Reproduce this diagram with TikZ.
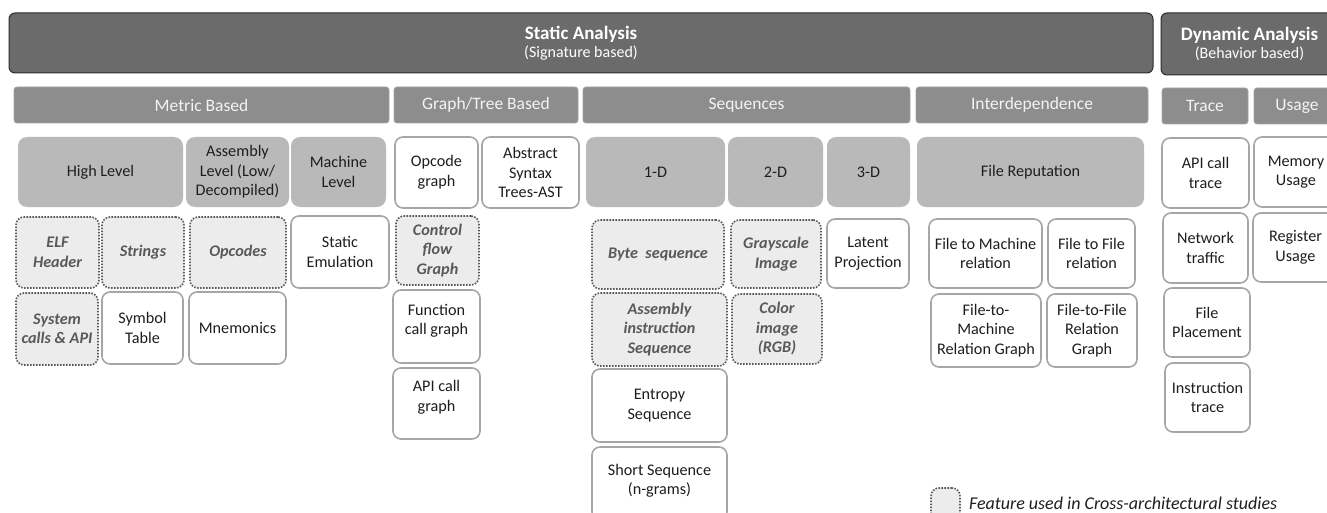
\documentclass[tikz,border=0pt]{standalone}
\usepackage{fontspec}
\setmainfont{Carlito}
\definecolor{cTop}{HTML}{6B6B6B}
\definecolor{cTopD}{HTML}{2B2B2B}
\definecolor{cCat}{HTML}{8D8D8D}
\definecolor{cCatD}{HTML}{A3A3A3}
\definecolor{cSub}{HTML}{B9B9B9}
\definecolor{cWb}{HTML}{A6A6A6}
\definecolor{cDot}{HTML}{595959}
\definecolor{cDotF}{HTML}{ECECEC}
\definecolor{cTxt}{HTML}{1E1E1E}
\definecolor{cCatT}{HTML}{F4F4F4}
\newcommand\bx[7]{\node[#6, minimum width={#4pt-#2pt}, minimum height={#5pt-#3pt}] (#1) at ({(#2+#4)/2},{(#3+#5)/2}) {#7};}
\begin{document}
\begin{tikzpicture}[x=1pt,y=-1pt,
  every node/.style={inner sep=0pt, outer sep=0pt, align=center},
  topbox/.style={draw=cTopD, line width=1pt, fill=cTop, rounded corners=6pt, text=white},
  catbox/.style={draw=cCatD, line width=0.8pt, fill=cCat, rounded corners=3pt, text=cCatT, font=\fontsize{17.5}{21}\selectfont},
  subbox/.style={fill=cSub, rounded corners=9pt, text=cTxt, font=\fontsize{16.2}{19.5}\selectfont},
  wbox/.style={draw=cWb, line width=1.6pt, fill=white, rounded corners=8pt, text=cTxt, font=\fontsize{16.2}{19.5}\selectfont},
  dbox/.style={draw=cDot, line width=1.6pt, dash pattern=on 1.6pt off 1.4pt, fill=cDotF, rounded corners=8pt, text=cDot, font=\fontsize{16.2}{19.5}\selectfont\bfseries\itshape}]
\useasboundingbox (0,0) rectangle (1327,513);
\clip (0,0) rectangle (1327,513);
% top level
\bx{static}{9}{13}{1153}{73}{topbox}{{\fontsize{19}{22}\selectfont\bfseries Static Analysis}\\[2pt]{\fontsize{16}{19}\selectfont (Signature based)}}
\bx{dynamic}{1161}{13}{1338}{75}{topbox}{{\fontsize{19}{22}\selectfont\bfseries Dynamic Analysis}\\[2pt]{\fontsize{16}{19}\selectfont (Behavior based)}}
% categories
\bx{metric}{14}{87}{389}{123}{catbox}{Metric Based}
\bx{graph}{394}{87}{578}{123}{catbox}{Graph/Tree Based}
\bx{seq}{583}{87}{910}{123}{catbox}{Sequences}
\bx{inter}{916}{87}{1148}{123}{catbox}{Interdependence}
\bx{trace}{1162}{88}{1248}{124}{catbox}{Trace}
\bx{usage}{1254}{88}{1340}{124}{catbox}{Usage}
% sub categories
\bx{high}{18}{137}{183}{207}{subbox}{High Level}
\bx{asmlvl}{186}{137}{289}{207}{subbox}{Assembly\\Level (Low/\\Decompiled)}
\bx{mach}{291}{137}{386}{207}{subbox}{Machine\\Level}
\bx{opg}{395}{137}{478}{208}{wbox}{Opcode\\graph}
\bx{ast}{482}{137}{579}{208}{wbox}{Abstract\\Syntax\\Trees-AST}
\bx{oned}{586}{137}{725}{207}{subbox}{1-D}
\bx{twod}{728}{137}{823}{207}{subbox}{2-D}
\bx{threed}{827}{137}{910}{207}{subbox}{3-D}
\bx{filerep}{917}{137}{1144}{207}{subbox}{File Reputation}
\bx{apitr}{1162}{138}{1249}{208}{wbox}{API call\\trace}
\bx{mem}{1254}{137}{1338}{207}{wbox}{Memory\\Usage}
% row 4
\bx{elf}{16}{217}{99}{288}{dbox}{ELF\\Header}
\bx{str}{102}{217}{184}{288}{dbox}{Strings}
\bx{opc}{190}{217}{286}{288}{dbox}{Opcodes}
\bx{emu}{291}{216}{389}{288}{wbox}{Static\\Emulation}
\bx{cfg}{396}{216}{479}{285}{dbox}{Control\\flow\\Graph}
\bx{byte}{592}{220}{724}{289}{dbox}{Byte\ \ sequence}
\bx{gray}{731}{220}{821}{288}{dbox}{Grayscale\\Image}
\bx{latent}{827}{219}{909}{288}{wbox}{Latent\\Projection}
\bx{ftm}{929}{219}{1042}{288}{wbox}{File to Machine\\relation}
\bx{ftf}{1048}{219}{1135}{288}{wbox}{File to File\\relation}
\bx{net}{1163}{213}{1248}{283}{wbox}{Network\\traffic}
\bx{reg}{1253}{213}{1338}{282}{wbox}{Register\\Usage}
% row 5
\bx{sys}{16}{293}{98}{365}{dbox}{System\\calls \& API}
\bx{sym}{102}{292}{183}{364}{wbox}{Symbol\\Table}
\bx{mnem}{189}{292}{286}{364}{wbox}{Mnemonics}
\bx{fcg}{393}{290}{480}{363}{wbox,text depth=14pt}{Function\\call graph}
\bx{ais}{592}{293}{727}{366}{dbox}{Assembly\\instruction\\Sequence}
\bx{color}{732}{294}{822}{364}{dbox}{Color\\image\\(RGB)}
\bx{ftmg}{931}{294}{1041}{367}{wbox}{File-to-\\Machine\\Relation Graph}
\bx{ftfg}{1047}{294}{1137}{367}{wbox}{File-to-File\\Relation\\Graph}
\bx{place}{1164}{288}{1250}{357}{wbox}{File\\Placement}
% row 6
\bx{apig}{393}{368}{480}{439}{wbox,text depth=15pt}{API call\\graph}
\bx{entropy}{592}{369}{727}{442}{wbox}{Entropy\\Sequence}
\bx{instr}{1165}{363}{1250}{432}{wbox}{Instruction\\trace}
% row 7
\bx{short}{592}{447}{727}{520}{wbox,text depth=8pt}{Short Sequence\\(n-grams)}
% legend
\bx{legbox}{931}{488}{960}{525}{dbox}{}
\node[anchor=west, text=cTxt, font=\fontsize{18}{21}\selectfont\itshape] (legtxt) at (969,503) {Feature used in Cross-architectural studies};
\end{tikzpicture}
\end{document}
